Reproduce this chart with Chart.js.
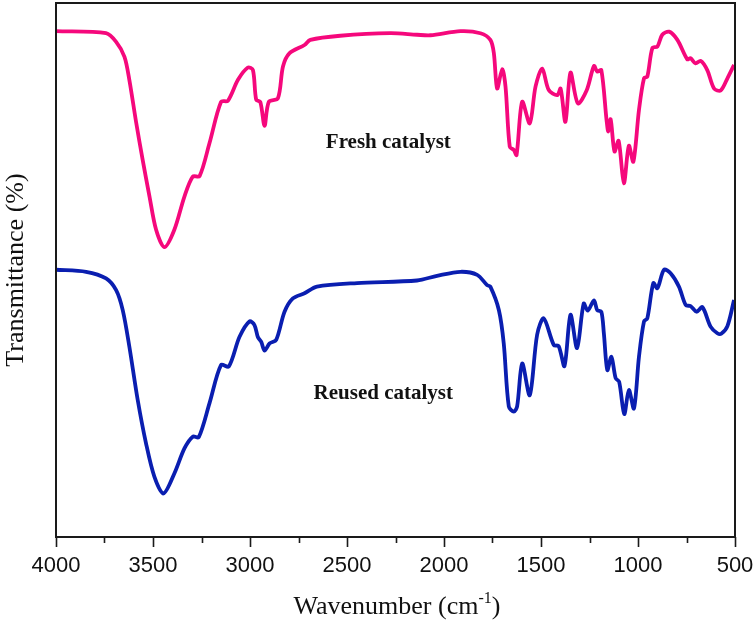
<!DOCTYPE html>
<html>
<head>
<meta charset="utf-8">
<script src="https://cdn.jsdelivr.net/npm/chart.js@4"></script>
<style>
  html, body { margin: 0; padding: 0; background: #fff; }
  #wrap { width: 754px; height: 626px; }
</style>
</head>
<body>
<div id="wrap"><canvas id="ftir-chart" width="754" height="626"></canvas></div>
<script>
// FTIR spectra (transmittance in arbitrary %)
const freshWn = [4000, 3742, 3690, 3647, 3622, 3587, 3553, 3518, 3484, 3441, 3390, 3338, 3295, 3260, 3209, 3149, 3114, 3062, 3011, 2985, 2968, 2947, 2925, 2903, 2856, 2830, 2796, 2719, 2689, 2535, 2277, 2139, 2070, 1915, 1812, 1761, 1743, 1726, 1700, 1683, 1661, 1640, 1626, 1597, 1558, 1528, 1494, 1460, 1416, 1399, 1374, 1348, 1310, 1265, 1227, 1210, 1189, 1162, 1153, 1141, 1121, 1100, 1073, 1047, 1024, 995, 969, 952, 926, 900, 875, 840, 797, 746, 729, 703, 677, 643, 608, 574, 539, 505]
const freshT = [94.5, 94.1, 92.4, 89.5, 85.0, 76.7, 69.3, 62.2, 55.7, 52.3, 55.7, 62.2, 66.1, 66.2, 72.6, 80.7, 80.9, 85.0, 87.4, 86.9, 81.1, 80.7, 76.0, 80.7, 81.4, 87.6, 90.2, 91.8, 92.8, 93.6, 94.1, 93.8, 93.7, 94.5, 94.1, 92.8, 90.2, 83.3, 87.1, 83.7, 71.9, 71.3, 70.3, 80.7, 76.5, 83.7, 87.2, 83.0, 82.0, 83.3, 76.8, 86.4, 80.4, 82.9, 87.7, 86.6, 86.9, 77.1, 74.9, 77.3, 71.0, 73.1, 64.8, 72.1, 69.0, 79.1, 85.3, 85.6, 91.2, 91.5, 93.8, 94.4, 92.8, 89.0, 89.2, 88.2, 88.7, 86.9, 83.3, 82.9, 85.3, 87.9]

const reusedWn = [4000, 3845, 3742, 3690, 3656, 3622, 3579, 3536, 3493, 3446, 3390, 3338, 3295, 3264, 3209, 3149, 3109, 3054, 3003, 2977, 2959, 2942, 2925, 2899, 2865, 2822, 2779, 2719, 2655, 2448, 2139, 2036, 1915, 1829, 1778, 1761, 1717, 1692, 1666, 1640, 1623, 1597, 1558, 1520, 1486, 1434, 1409, 1379, 1348, 1314, 1280, 1259, 1227, 1210, 1189, 1176, 1158, 1137, 1115, 1097, 1071, 1047, 1021, 995, 969, 952, 921, 900, 866, 832, 789, 754, 729, 698, 668, 626, 591, 571, 539, 505]
const reusedT = [47.9, 47.5, 46.2, 43.9, 40.0, 32.9, 22.5, 14.0, 7.5, 4.2, 8.1, 13.0, 15.3, 15.2, 21.8, 29.3, 29.0, 34.8, 37.8, 37.1, 34.7, 33.8, 32.1, 33.5, 34.2, 39.7, 42.3, 43.3, 44.6, 45.3, 45.8, 46.7, 47.5, 46.9, 44.9, 44.6, 40.0, 33.5, 21.2, 20.2, 21.2, 29.6, 23.4, 35.2, 38.4, 33.2, 33.0, 29.1, 39.1, 32.6, 41.3, 39.9, 41.9, 40.0, 39.7, 35.5, 28.3, 30.9, 26.7, 26.0, 19.7, 24.4, 20.8, 30.9, 37.8, 38.4, 45.3, 44.3, 47.9, 47.2, 44.6, 41.0, 40.8, 39.7, 40.6, 36.8, 35.5, 35.4, 36.9, 42.0]

const majorTicks = [4000, 3500, 3000, 2500, 2000, 1500, 1000, 500]
const minorTicks = [3750, 3250, 2750, 2250, 1750, 1250, 750]

const curveLabels = [
    {text: "Fresh catalyst", x: 2287, y: 72.7},
    {text: "Reused catalyst", x: 2313, y: 23.8}
]

const toPoints = (xs, ys) => xs.map((x, i) => ({x: x, y: ys[i]}))

// frame, tick marks, axis titles and curve labels
const decor = {
    id: "decor",
    afterDraw(chart) {
        const ctx = chart.ctx
        const a = chart.chartArea
        const xs = chart.scales.x
        const ys = chart.scales.y
        ctx.save()
        ctx.strokeStyle = "#1a1a1a"
        ctx.lineWidth = 2
        ctx.strokeRect(a.left, a.top, a.right - a.left, a.bottom - a.top)

        ctx.lineWidth = 1.6
        ctx.beginPath()
        majorTicks.forEach(v => {
            const px = Math.round(xs.getPixelForValue(v)) + 0.5
            ctx.moveTo(px, a.bottom)
            ctx.lineTo(px, a.bottom + 10)
        })
        minorTicks.forEach(v => {
            const px = Math.round(xs.getPixelForValue(v)) + 0.5
            ctx.moveTo(px, a.bottom)
            ctx.lineTo(px, a.bottom + 6)
        })
        ctx.stroke()

        ctx.fillStyle = "#111"
        ctx.textBaseline = "alphabetic"

        // x title with superscript
        const big = "26px 'Liberation Serif', 'Times New Roman', serif"
        const small = "16px 'Liberation Serif', 'Times New Roman', serif"
        const p1 = "Wavenumber (cm", p2 = "-1", p3 = ")"
        ctx.font = big
        const w1 = ctx.measureText(p1).width, w3 = ctx.measureText(p3).width
        ctx.font = small
        const w2 = ctx.measureText(p2).width
        let x0 = 397 - (w1 + w2 + w3) / 2
        const base = 614
        ctx.font = big
        ctx.textAlign = "left"
        ctx.fillText(p1, x0, base)
        ctx.font = small
        ctx.fillText(p2, x0 + w1, base - 11)
        ctx.font = big
        ctx.fillText(p3, x0 + w1 + w2, base)

        // y title
        ctx.save()
        ctx.translate(23, 270)
        ctx.rotate(-Math.PI / 2)
        ctx.font = "26px 'Liberation Serif', 'Times New Roman', serif"
        ctx.textAlign = "center"
        ctx.fillText("Transmittance (%)", 0, 0)
        ctx.restore()

        ctx.font = "bold 21px 'Liberation Serif', 'Times New Roman', serif"
        ctx.textAlign = "center"
        ctx.textBaseline = "middle"
        curveLabels.forEach(l => {
            ctx.fillText(l.text, xs.getPixelForValue(l.x), ys.getPixelForValue(l.y))
        })
        ctx.restore()
    }
}

new Chart(document.getElementById("ftir-chart"), {
    type: "scatter",
    data: {
        datasets: [{
            label: "Fresh catalyst",
            data: toPoints(freshWn, freshT),
            showLine: true,
            borderColor: "#f5087c",
            borderWidth: 3.8,
            pointRadius: 0,
            tension: 0.3
        },
        {
            label: "Reused catalyst",
            data: toPoints(reusedWn, reusedT),
            showLine: true,
            borderColor: "#0a1eb0",
            borderWidth: 3.8,
            pointRadius: 0,
            tension: 0.3
        }]
    },
    options: {
        responsive: false,
        animation: false,
        layout: {padding: {left: 56, right: 19, top: 3, bottom: 0}},
        plugins: {legend: {display: false}, tooltip: {enabled: false}},
        scales: {
            x: {
                type: "linear",
                min: 500,
                max: 4000,
                reverse: true,
                afterFit: s => {
                    s.height = 89
                    s.paddingLeft = 0
                    s.paddingRight = 0
                },
                grid: {display: false, drawTicks: false},
                border: {display: false},
                ticks: {
                    stepSize: 500,
                    padding: 16,
                    maxRotation: 0,
                    color: "#111",
                    callback: v => String(v),
                    font: {family: "'Liberation Sans', Arial, sans-serif", size: 22}
                }
            },
            y: {
                display: false,
                min: -4.3,
                max: 100
            }
        }
    },
    plugins: [decor]
})
</script>
</body>
</html>
